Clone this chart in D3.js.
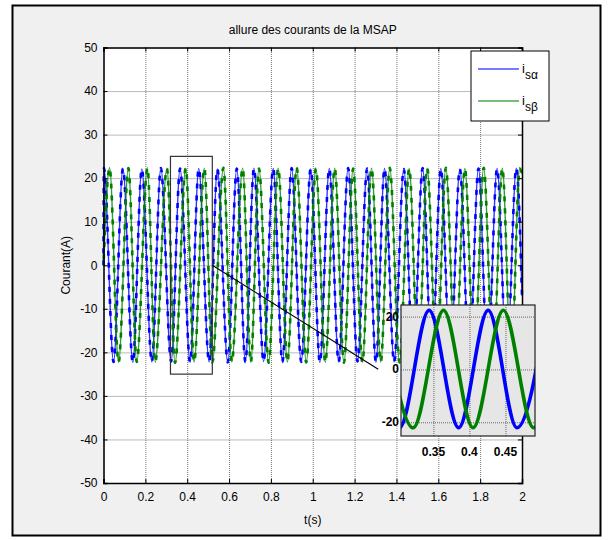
<!DOCTYPE html>
<html>
<head>
<meta charset="utf-8">
<script src="https://cdn.jsdelivr.net/npm/d3@7"></script>
<style>
  body { margin: 0; background: #fff; }
  svg { display: block; }
  text { font-family: "Liberation Sans", Arial, sans-serif; }
</style>
</head>
<body>
<svg id="fig" width="614" height="540"></svg>
<script>
// Stator currents of the PMSM: extremes (time in s, current in A) of each phase
const alphaT = [0, 0.002, 0.048, 0.093, 0.140, 0.183, 0.231, 0.274, 0.323, 0.366, 0.414, 0.455,
  0.505, 0.544, 0.594, 0.637, 0.678, 0.719, 0.765, 0.811, 0.855, 0.899, 0.945, 0.990, 1.034,
  1.079, 1.124, 1.169, 1.214, 1.260, 1.302, 1.343, 1.389, 1.435, 1.480, 1.525, 1.569, 1.612,
  1.657, 1.703, 1.748, 1.792, 1.836, 1.881, 1.927, 1.973, 2.0];
const alphaV = [0, 22.3, -22.2, 22.2, -22.3, 22.1, -22.2, 22.3, -22.1, 22.2, -22.3, 22.2,
  -22.2, 22.1, -22.3, 22.2, -22.2, 22.3, -22.1, 22.2, -22.2, 22.3, -22.2, 22.1, -22.3,
  22.2, -22.2, 22.3, -22.1, 22.2, -22.3, 22.2, -22.2, 22.1, -22.2, 22.3, -22.2, 22.2,
  -22.3, 22.1, -22.2, 22.2, -22.3, 22.2, -22.1, 22.3, -7];

const betaT = [0, 0.029, 0.072, 0.119, 0.159, 0.210, 0.247, 0.303, 0.342, 0.393, 0.433, 0.482,
  0.520, 0.573, 0.613, 0.665, 0.704, 0.743, 0.789, 0.835, 0.879, 0.923, 0.969, 1.015, 1.060,
  1.105, 1.149, 1.193, 1.237, 1.281, 1.325, 1.368, 1.415, 1.461, 1.504, 1.547, 1.592, 1.636,
  1.682, 1.727, 1.772, 1.817, 1.862, 1.906, 1.948, 1.989, 2.0];
const betaV = [0, 22.4, -22.3, 22.3, -22.2, 22.4, -22.3, 22.2, -22.4, 22.3, -22.2, 22.3,
  -22.3, 22.4, -22.2, 22.3, -22.3, 22.2, -22.4, 22.3, -22.2, 22.4, -22.3, 22.2, -22.3,
  22.3, -22.4, 22.2, -22.3, 22.3, -22.2, 22.4, -22.3, 22.2, -22.3, 22.3, -22.2, 22.4,
  -22.3, 22.2, -22.3, 22.4, -22.2, 22.3, -22.3, 22.2, 21];

// Zoomed window (inset) extremes
const zoomAlphaT = [0.262, 0.303, 0.344, 0.385, 0.426, 0.466, 0.507];
const zoomAlphaV = [22.3, -22.1, 22.4, -22.1, 22.4, -22.1, 22.3];
const zoomBetaT = [0.281, 0.322, 0.364, 0.405, 0.447, 0.489, 0.530];
const zoomBetaV = [22.3, -22.1, 22.4, -22.1, 22.4, -22.1, 22.3];

// Axis ticks
const xTicks = [0, 0.2, 0.4, 0.6, 0.8, 1, 1.2, 1.4, 1.6, 1.8, 2];
const yTicks = [-50, -40, -30, -20, -10, 0, 10, 20, 30, 40, 50];
const zoomXTicks = [0.35, 0.4, 0.45];
const zoomYTicks = [-20, 0, 20];

// Region highlighted on the main axes and the pointer to the inset
const zoomBoxT = [0.32, 0.52];
const zoomBoxI = [-25, 25];
const pointerFrom = [0.52, 0];
const pointerTo = [1.313, -23.9];

const seriesNames = ["s\u03b1", "s\u03b2"];
const seriesColors = ["#0000ff", "#008000"];

const svg = d3.select("#fig");

// Figure frame
svg.append("rect").attr("x", 0).attr("y", 0).attr("width", 614).attr("height", 540).attr("fill", "#fff");
svg.append("rect").attr("x", 12.5).attr("y", 5.5).attr("width", 588).attr("height", 530)
  .attr("fill", "#f0f0f0").attr("stroke", "#000").attr("stroke-width", 2);

// Main axes
const X0 = 103.5, X1 = 522, Y0 = 483, Y1 = 47.5;
const x = d3.scaleLinear().domain([0, 2]).range([X0, X1]);
const y = d3.scaleLinear().domain([-50, 50]).range([Y0, Y1]);

svg.append("rect").attr("x", X0).attr("y", Y1).attr("width", X1 - X0).attr("height", Y0 - Y1).attr("fill", "#fff");

// Grid
const grid = svg.append("g").attr("class", "grid");
grid.append("g").attr("transform", `translate(0,${Y0})`)
  .call(d3.axisBottom(x).tickValues(xTicks).tickSize(-(Y0 - Y1)).tickFormat(""));
grid.append("g").attr("transform", `translate(${X0},0)`)
  .call(d3.axisLeft(y).tickValues(yTicks).tickSize(-(X1 - X0)).tickFormat(""));
grid.selectAll(".domain").remove();
grid.selectAll(".tick line").attr("stroke", "#777").attr("stroke-width", 1).attr("stroke-dasharray", "1,1");

// Curves
const lineMain = d3.line().x(d => x(d[0])).y(d => y(d[1])).curve(d3.curveMonotoneX);
const mainSeries = [d3.zip(alphaT, alphaV), d3.zip(betaT, betaV)];
const curves = svg.append("g");
mainSeries.forEach((pts, i) => {
  curves.append("path").attr("d", lineMain(pts)).attr("fill", "none")
    .attr("stroke", seriesColors[i]).attr("stroke-width", 1.4).attr("stroke-opacity", 0.8);
  curves.append("path").attr("d", lineMain(pts)).attr("fill", "none")
    .attr("stroke", seriesColors[i]).attr("stroke-width", 2.6).attr("stroke-dasharray", "5,7")
    .attr("stroke-dashoffset", i * 6);
});

// Axis labels and ticks
const fmt = d => String(d);
const axB = svg.append("g").attr("transform", `translate(0,${Y0})`)
  .call(d3.axisBottom(x).tickValues(xTicks).tickSize(-4).tickPadding(9).tickFormat(fmt));
const axL = svg.append("g").attr("transform", `translate(${X0},0)`)
  .call(d3.axisLeft(y).tickValues(yTicks).tickSize(-4).tickPadding(6).tickFormat(fmt));
const axT = svg.append("g").attr("transform", `translate(0,${Y1})`)
  .call(d3.axisTop(x).tickValues(xTicks).tickSize(-4).tickFormat(""));
const axR = svg.append("g").attr("transform", `translate(${X1},0)`)
  .call(d3.axisRight(y).tickValues(yTicks).tickSize(-4).tickFormat(""));
[axB, axL, axT, axR].forEach(a => {
  a.selectAll(".domain").attr("stroke", "#000").attr("stroke-width", 1.5);
  a.selectAll(".tick line").attr("stroke", "#000");
  a.selectAll("text").attr("font-size", 12).attr("fill", "#000")
    .attr("font-family", "'Liberation Sans', Arial, sans-serif");
});

svg.append("text").attr("x", (X0 + X1) / 2).attr("y", 34).attr("text-anchor", "middle")
  .attr("font-size", 12).text("allure des courants de la MSAP");
svg.append("text").attr("x", (X0 + X1) / 2).attr("y", 524).attr("text-anchor", "middle")
  .attr("font-size", 12).text("t(s)");
svg.append("text").attr("transform", `translate(70,${(Y0 + Y1) / 2}) rotate(-90)`)
  .attr("text-anchor", "middle").attr("font-size", 12).text("Courant(A)");

// Highlighted region and pointer
svg.append("rect")
  .attr("x", x(zoomBoxT[0])).attr("y", y(zoomBoxI[1]))
  .attr("width", x(zoomBoxT[1]) - x(zoomBoxT[0])).attr("height", y(zoomBoxI[0]) - y(zoomBoxI[1]))
  .attr("fill", "none").attr("stroke", "#333").attr("stroke-width", 1.2);
svg.append("line")
  .attr("x1", x(pointerFrom[0])).attr("y1", y(pointerFrom[1]))
  .attr("x2", x(pointerTo[0])).attr("y2", y(pointerTo[1]))
  .attr("stroke", "#000").attr("stroke-width", 1.2);

// Legend
const lg = svg.append("g");
lg.append("rect").attr("x", 471).attr("y", 51).attr("width", 78).attr("height", 70)
  .attr("fill", "#fff").attr("stroke", "#000").attr("stroke-width", 1);
seriesNames.forEach((nm, i) => {
  const ly = 69 + i * 32;
  lg.append("line").attr("x1", 478).attr("x2", 519).attr("y1", ly).attr("y2", ly)
    .attr("stroke", seriesColors[i]).attr("stroke-width", 1.3).attr("stroke-opacity", 0.7);
  const t = lg.append("text").attr("x", 522).attr("y", ly + 4).attr("font-size", 13);
  t.append("tspan").text("i");
  t.append("tspan").attr("dy", 6).attr("font-size", 12).text(nm);
});

// Inset
const IX0 = 401, IX1 = 535, IY0 = 436, IY1 = 305;
const xi = d3.scaleLinear().domain([0.305, 0.491]).range([IX0, IX1]);
const yi = d3.scaleLinear().domain([-25.2, 24.4]).range([IY0, IY1]);
const inset = svg.append("g");
inset.append("rect").attr("x", IX0).attr("y", IY1).attr("width", IX1 - IX0).attr("height", IY0 - IY1)
  .attr("fill", "#e6e6e6");
svg.append("defs").append("clipPath").attr("id", "insetClip")
  .append("rect").attr("x", IX0).attr("y", IY1).attr("width", IX1 - IX0).attr("height", IY0 - IY1);
const ig = inset.append("g");
ig.append("g").attr("transform", `translate(0,${IY0})`)
  .call(d3.axisBottom(xi).tickValues(zoomXTicks).tickSize(-(IY0 - IY1)).tickFormat(""));
ig.append("g").attr("transform", `translate(${IX0},0)`)
  .call(d3.axisLeft(yi).tickValues(zoomYTicks).tickSize(-(IX1 - IX0)).tickFormat(""));
ig.selectAll(".domain").remove();
ig.selectAll(".tick line").attr("stroke", "#666").attr("stroke-width", 1).attr("stroke-dasharray", "1,1");

const lineZoom = d3.line().x(d => xi(d[0])).y(d => yi(d[1])).curve(d3.curveMonotoneX);
const zoomSeries = [d3.zip(zoomAlphaT, zoomAlphaV), d3.zip(zoomBetaT, zoomBetaV)];
const zc = inset.append("g").attr("clip-path", "url(#insetClip)");
zoomSeries.forEach((pts, i) => {
  zc.append("path").attr("d", lineZoom(pts)).attr("fill", "none")
    .attr("stroke", seriesColors[i]).attr("stroke-width", 3.6);
});
inset.append("rect").attr("x", IX0).attr("y", IY1).attr("width", IX1 - IX0).attr("height", IY0 - IY1)
  .attr("fill", "none").attr("stroke", "#222").attr("stroke-width", 1.2);

// Inset tick labels (bold)
inset.append("g").selectAll("text").data(zoomXTicks).join("text")
  .attr("x", d => xi(d)).attr("y", IY0 + 20).attr("text-anchor", "middle")
  .attr("font-size", 12).attr("font-weight", "bold").text(fmt);
inset.append("g").selectAll("text").data(zoomYTicks).join("text")
  .attr("x", IX0 - 2).attr("y", d => yi(d) + 4).attr("text-anchor", "end")
  .attr("font-size", 12).attr("font-weight", "bold").text(fmt);
</script>
</body>
</html>
